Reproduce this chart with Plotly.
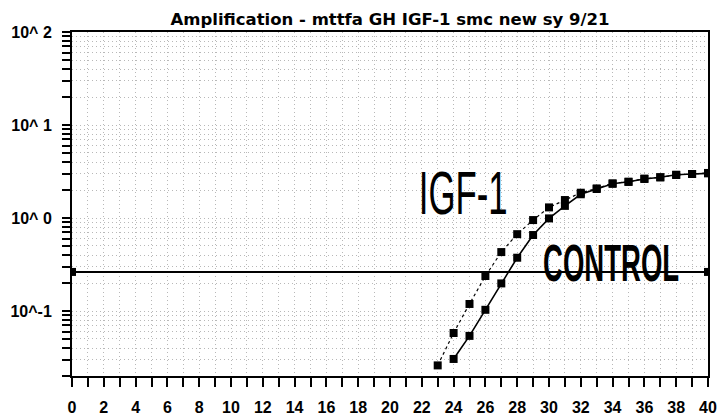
import math
import plotly.graph_objects as go

# ---- data ----
cycles_igf = [23, 24, 25, 26, 27, 28, 29, 30, 31, 32, 33, 34, 35, 36, 37, 38, 39, 40]
igf_values = [0.026, 0.058, 0.119, 0.238, 0.43, 0.67, 0.95, 1.30, 1.56, 1.87,
              2.08, 2.36, 2.45, 2.65, 2.74, 2.90, 2.97, 3.05]

cycles_ctrl = [24, 25, 26, 27, 28, 29, 30, 31, 32, 33, 34, 35, 36, 37, 38, 39, 40]
ctrl_values = [0.0305, 0.054, 0.103, 0.198, 0.374, 0.656, 0.99, 1.35, 1.80,
               2.05, 2.33, 2.45, 2.63, 2.74, 2.92, 2.97, 3.02]

threshold_x = [0, 40]
threshold_y = [0.263, 0.263]

y_major_vals = [0.1, 1, 10, 100]
y_major_text = ["10^-1", "10^ 0", "10^ 1", "10^ 2"]
y_minor_vals = [k * 10 ** n for n in (-2, -1, 0, 1) for k in range(2, 10)]

x_label_vals = list(range(0, 41, 2))

title_text = "Amplification - mttfa GH IGF-1 smc new sy 9/21"
label_igf = "IGF-1"
label_ctrl = "CONTROL"

fig = go.Figure()

fig.add_trace(go.Scatter(
    x=threshold_x, y=threshold_y, mode="lines+markers",
    line=dict(color="black", width=2),
    marker=dict(symbol="square", size=8, color="black"),
    showlegend=False))

fig.add_trace(go.Scatter(
    x=cycles_igf, y=igf_values, mode="lines+markers",
    line=dict(color="black", width=1.2, dash="dot"),
    marker=dict(symbol="square", size=8, color="black"),
    showlegend=False))

fig.add_trace(go.Scatter(
    x=cycles_ctrl, y=ctrl_values, mode="lines+markers",
    line=dict(color="black", width=1.6),
    marker=dict(symbol="square", size=8, color="black"),
    showlegend=False))

fig.add_annotation(x=24.56, y=math.log10(1.88), xref="x", yref="y",
                   text=label_igf, showarrow=False,
                   font=dict(family="Liberation Sans", size=62, color="black",
                             weight="normal"))
fig.add_annotation(x=33.87, y=math.log10(0.324), xref="x", yref="y",
                   text=label_ctrl, showarrow=False,
                   font=dict(family="Liberation Sans", size=51, color="black",
                             weight="bold"))

grid = dict(showgrid=True, gridcolor="#b8b8b8", griddash="1px,3px", gridwidth=1)

fig.update_layout(
    width=719, height=417,
    margin=dict(l=72, r=11, t=32, b=41, autoexpand=False),
    paper_bgcolor="white", plot_bgcolor="white",
    title=dict(text="<b>" + title_text + "</b>", x=390 / 719, xanchor="center",
               y=1 - 19 / 417, yanchor="middle", yref="container",
               font=dict(family="DejaVu Sans", size=16.5, color="black")),
    font=dict(family="Liberation Sans", size=16, color="black", weight="bold"),
    xaxis=dict(range=[0, 40], tickmode="array", tickvals=x_label_vals,
               ticktext=[str(v) for v in x_label_vals],
               ticks="outside", ticklen=9, tickwidth=2, tickcolor="black",
               ticklabelstandoff=7, automargin=False,
               showline=True, linewidth=2, linecolor="black", mirror=True,
               zeroline=False,
               minor=dict(dtick=1, tick0=0, ticks="outside", ticklen=9,
                          tickwidth=2, tickcolor="black", **grid),
               **grid),
    yaxis=dict(type="log", range=[math.log10(0.02), 2], tickmode="array",
               tickvals=y_major_vals, ticktext=y_major_text,
               ticks="outside", ticklen=8, tickwidth=2, tickcolor="black",
               ticklabelstandoff=7, automargin=False,
               showline=True, linewidth=2, linecolor="black", mirror=True,
               zeroline=False,
               minor=dict(tickmode="array", tickvals=y_minor_vals, ticks="outside",
                          ticklen=8, tickwidth=2, tickcolor="black", **grid),
               **grid),
)

post = """
document.body.style.margin = '0';
document.body.style.padding = '0';
var gd = document.getElementById('{plot_id}');
function squeeze(){
  gd.querySelectorAll('.annotation-text').forEach(function(t){
    var s = t.textContent === 'IGF-1' ? 0.56 : 0.54;
    t.style.transformBox = 'fill-box';
    t.style.transformOrigin = 'center';
    t.style.transform = 'scaleX(' + s + ')';
  });
}
squeeze();
gd.on('plotly_afterplot', squeeze);
"""

fig.write_html("out.html", post_script=post, config={"displayModeBar": False})
